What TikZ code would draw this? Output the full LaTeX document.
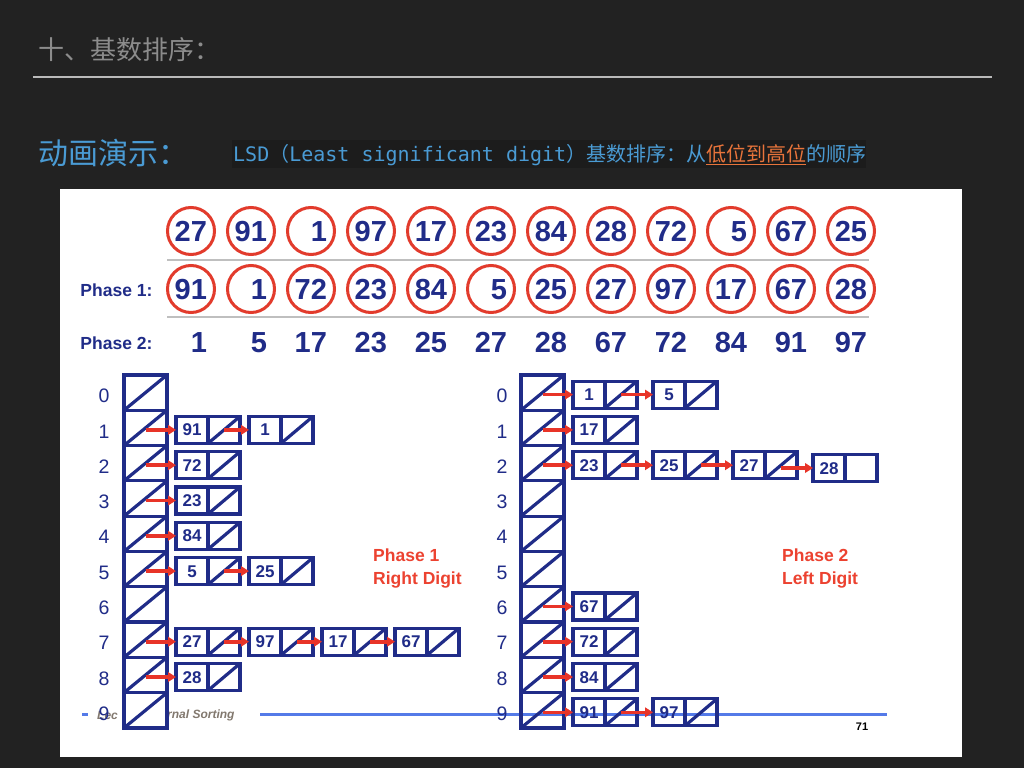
\documentclass[tikz,border=0pt]{standalone}
\usepackage{fontspec}
\setmainfont{Liberation Sans}
\newfontfamily\cjkfont{Noto Sans CJK SC}
\newfontfamily\codefont{DejaVu Sans Mono}
\usetikzlibrary{positioning,arrows.meta}

\definecolor{slidebg}{HTML}{222222}
\definecolor{codebg}{HTML}{1C1C1C}
\definecolor{navy}{RGB}{32,44,136}
\definecolor{circred}{RGB}{226,59,44}
\definecolor{ptrred}{RGB}{232,52,40}
\definecolor{labred}{RGB}{236,66,48}
\definecolor{titlegray}{HTML}{8C8C8C}
\definecolor{slideblue}{RGB}{74,155,212}
\definecolor{hiorange}{RGB}{232,116,59}
\definecolor{footblue}{RGB}{84,122,232}
\definecolor{footgray}{RGB}{130,120,110}

\tikzset{
  numbox/.style={circle, draw=circred, line width=3pt, minimum size=47pt, inner sep=0pt,
    text height=21pt, text depth=0pt, text=navy, font=\bfseries\fontsize{29}{29}\selectfont},
  sortednum/.style={inner sep=0pt, text height=21pt, text depth=0pt, text=navy,
    font=\bfseries\fontsize{29}{29}\selectfont},
  cellbox/.style={draw=navy, line width=3.2pt, inner sep=0pt, outer sep=0pt,
    minimum width=32pt, minimum height=27pt, text height=12pt, text depth=0pt,
    text=navy, font=\bfseries\fontsize{17}{17}\selectfont},
  nullbox/.style={cellbox, path picture={\draw[navy, line width=3.2pt]
    (path picture bounding box.south west) -- (path picture bounding box.north east);}},
  bucket/.style={nullbox, minimum width=43pt, minimum height=35.3pt},
  ptr/.style={draw=ptrred, line width=3.6pt, -{Triangle[length=8pt,width=9.5pt]}},
  digitlabel/.style={text=navy, font=\fontsize{19.5}{19.5}\selectfont},
  phaselabel/.style={anchor=east, text=navy, font=\bfseries\fontsize{17.5}{17.5}\selectfont},
  notelabel/.style={anchor=north west, inner sep=0pt, align=left, text=labred,
    font=\bfseries\fontsize{17.5}{23}\selectfont},
}

% right-aligned number in a fixed slot
\newcommand{\slot}[1]{\makebox[32pt][r]{#1}}

% one bucket chain: side, row, x of first value cell, step, values
\newcommand{\chainrow}[5]{%
  \foreach \v [count=\i] in {#5} {
    \pgfmathtruncatemacro\j{\i-1}
    \node[cellbox] (#1#2-v\i) at ({#3+#4*(\i-1)},{394.6+35.3*#2}) {\v};
    \node[nullbox, right=0pt of #1#2-v\i] (#1#2-p\i) {};
    \draw[ptr] (#1#2-p\j.center |- #1#2-v\i.west) -- (#1#2-v\i.west);
  }}

\begin{document}
\begin{tikzpicture}[x=1pt, y=-1pt]
    % Slide background
    \fill[slidebg] (0,0) rectangle (1024,768);
    \useasboundingbox (0,0) rectangle (1024,768);

    % Title
    \node[anchor=west, text=titlegray, font=\cjkfont\fontsize{26}{26}\selectfont] (title) at (35,50) {十、基数排序：};
    \draw[titlegray!60!white, line width=2pt] (33,77) -- (992,77);

    % Subtitle
    \node[anchor=west, text=slideblue, font=\cjkfont\fontsize{30}{30}\selectfont] (demo) at (35,153) {动画演示：};
    \fill[codebg] (232,140) rectangle (866,168);
    \node[anchor=base west, inner sep=0pt, text=slideblue, font=\codefont\fontsize{20}{20}\selectfont] (lsd) at (233,161)
        {LSD{\cjkfont\fontsize{20}{20}\selectfont （}Least significant digit{\cjkfont\fontsize{20}{20}\selectfont ）基数排序：从\textcolor{hiorange}{\underline{低位到高位}}的顺序}};

    % White panel
    \fill[white] (60,189) rectangle (962,757);

    % Input and phase rows
    \draw[black!25, line width=2pt] (167,260) -- (869,260);
    \draw[black!25, line width=2pt] (167,317) -- (869,317);
    \foreach \v [count=\i] in {27,91,1,97,17,23,84,28,72,5,67,25}
        \node[numbox] (in\i) at ({131+60*\i},231) {\slot{\v}};
    \foreach \v [count=\i] in {91,1,72,23,84,5,25,27,97,17,67,28}
        \node[numbox] (pa\i) at ({131+60*\i},289) {\slot{\v}};
    \foreach \v [count=\i] in {1,5,17,23,25,27,28,67,72,84,91,97}
        \node[sortednum] (pb\i) at ({131+60*\i},342) {\slot{\v}};
    \node[phaselabel] (ph1) at (156,290) {Phase 1:};
    \node[phaselabel] (ph2) at (156,343) {Phase 2:};

    % Footer
    \draw[footblue, line width=3pt] (82,714) -- (88,714);
    \draw[footblue, line width=3pt] (260,714) -- (887,714);
    \node[anchor=west, inner sep=0pt, text=footgray, font=\bfseries\itshape\fontsize{12}{12}\selectfont] (lec) at (97,715) {Lec};
    \node[anchor=west, inner sep=0pt, text=footgray, font=\bfseries\itshape\fontsize{12}{12}\selectfont] (sorting) at (167,715) {rnal Sorting};
    \node[font=\bfseries\fontsize{11}{11}\selectfont] (page) at (862,727) {71};

    % Bucket columns
    \foreach \k in {0,...,9} {
        \node[digitlabel] (ld\k) at (104,{396+35.3*\k}) {\k};
        \node[bucket] (a\k-p0) at (145.5,{392.6+35.3*\k}) {};
        \node[digitlabel] (rd\k) at (502,{396+35.3*\k}) {\k};
        \node[bucket] (b\k-p0) at (542.5,{392.6+35.3*\k}) {};
    }

    % Phase 1 lists
    \chainrow{a}{1}{192}{73}{91,1}
    \chainrow{a}{2}{192}{73}{72}
    \chainrow{a}{3}{192}{73}{23}
    \chainrow{a}{4}{192}{73}{84}
    \chainrow{a}{5}{192}{73}{5,25}
    \chainrow{a}{7}{192}{73}{27,97,17,67}
    \chainrow{a}{8}{192}{73}{28}

    % Phase 2 lists
    \chainrow{b}{0}{589}{80}{1,5}
    \chainrow{b}{1}{589}{80}{17}
    \chainrow{b}{2}{589}{80}{23,25,27}
    \node[cellbox] (b2-v4) at (829,468) {28};
    \node[cellbox, right=0pt of b2-v4] (b2-p4) {};
    \draw[ptr] (b2-p3.center |- b2-v4.west) -- (b2-v4.west);
    \chainrow{b}{6}{589}{80}{67}
    \chainrow{b}{7}{589}{80}{72}
    \chainrow{b}{8}{589}{80}{84}
    \chainrow{b}{9}{589}{80}{91,97}

    % Phase notes
    \node[notelabel] (note1) at (373,549) {Phase 1\\Right Digit};
    \node[notelabel] (note2) at (782,549) {Phase 2\\Left Digit};
\end{tikzpicture}
\end{document}
